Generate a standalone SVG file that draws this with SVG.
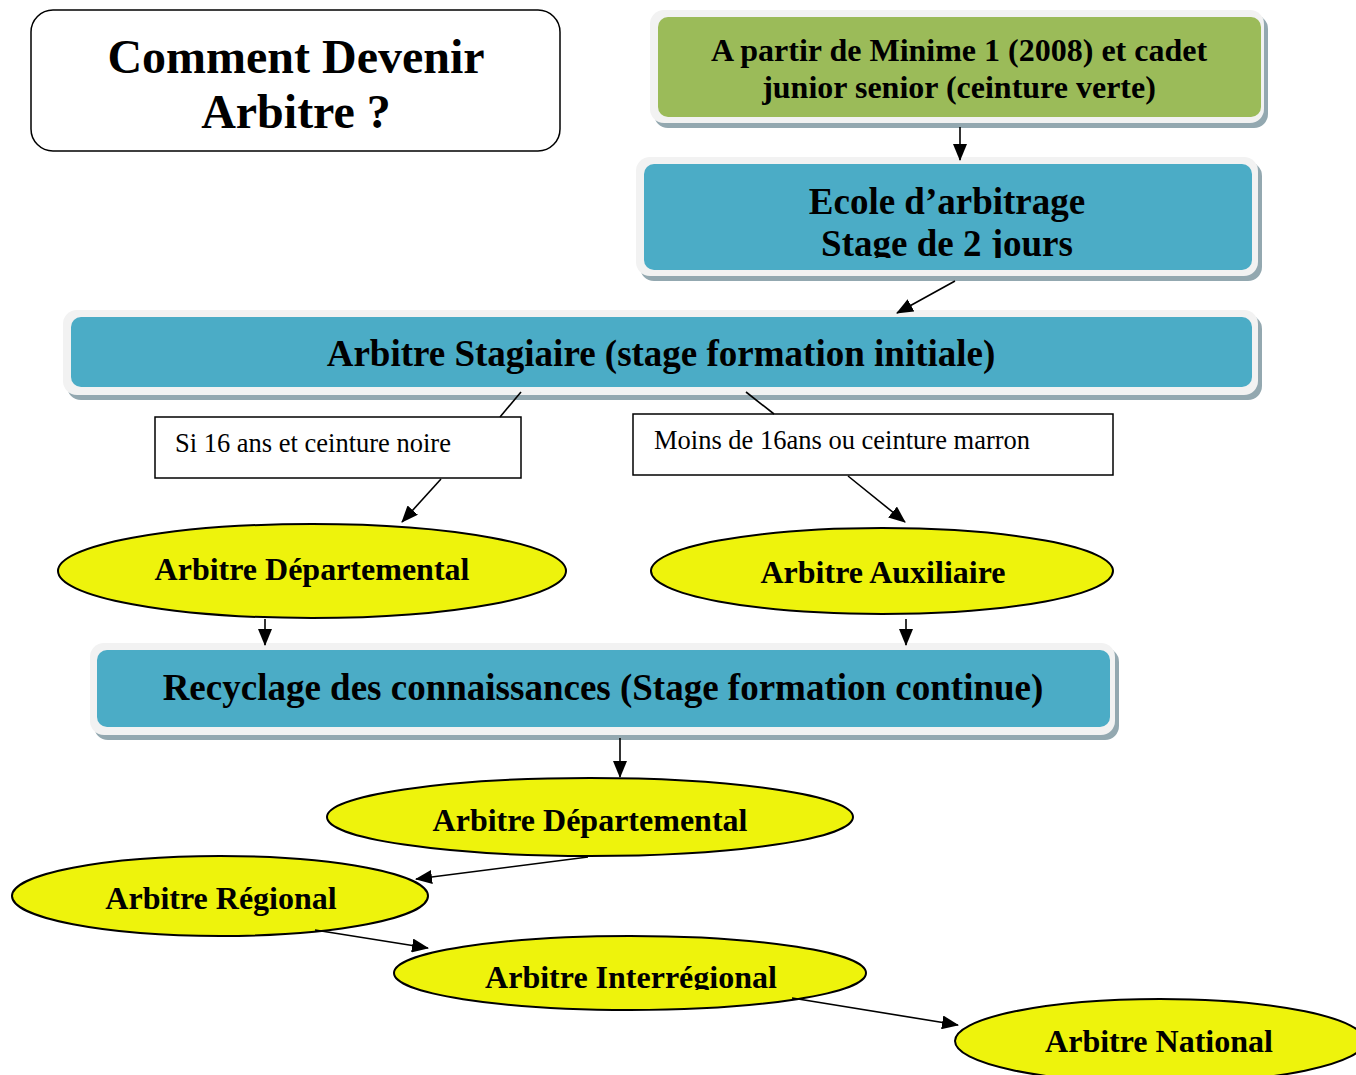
<svg xmlns="http://www.w3.org/2000/svg" width="1356" height="1075" viewBox="0 0 1356 1075">
<defs>
<style>
.frame{fill:#F2F2F2;}
.shadow{fill:#93A8B0;}
.blue{fill:#4BACC6;}
.green{fill:#9BBB59;}
.ell{fill:#EEF30C;stroke:#000;stroke-width:2;}
.plain{fill:#fff;stroke:#000;stroke-width:1.5;}
.big{font-family:"Liberation Serif","Times New Roman",serif;font-weight:bold;fill:#000;text-anchor:middle;}
.small{font-family:"Liberation Serif","Times New Roman",serif;font-size:26.5px;fill:#000;}
.conn line{stroke:#000;stroke-width:1.6;fill:none;}
</style>
<marker id="ah" markerUnits="userSpaceOnUse" markerWidth="17" markerHeight="14" refX="16" refY="7" orient="auto">
<path d="M0,0 L17,7 L0,14 z" fill="#000"/>
</marker>
<clipPath id="clipEcole"><rect x="600" y="150" width="700" height="108"/></clipPath>
<clipPath id="clipInter"><rect x="380" y="930" width="520" height="60"/></clipPath>
</defs>

<g id="title">
<rect x="31" y="10" width="529" height="141" rx="22" ry="22" fill="#fff" stroke="#000" stroke-width="1.5"/>
<text class="big" x="296" y="73" font-size="48">Comment Devenir</text>
<text class="big" x="296" y="128" font-size="48">Arbitre ?</text>
</g>

<g id="minime">
<rect class="shadow" x="654" y="15" width="614" height="113" rx="14"/>
<rect class="frame" x="650" y="10" width="614" height="113" rx="14"/>
<rect class="green" x="658" y="17" width="603" height="100" rx="10"/>
<text class="big" x="959" y="61" font-size="32">A partir de Minime 1 (2008) et cadet</text>
<text class="big" x="959" y="98" font-size="32">junior senior (ceinture verte)</text>
</g>

<g id="ecole">
<rect class="shadow" x="640" y="162" width="622" height="119" rx="14"/>
<rect class="frame" x="636" y="157" width="622" height="119" rx="14"/>
<rect class="blue" x="644" y="164" width="608" height="106" rx="10"/>
<text class="big" x="947" y="214" font-size="37">Ecole d’arbitrage</text>
<g clip-path="url(#clipEcole)"><text class="big" x="947" y="256" font-size="37">Stage de 2 jours</text></g>
</g>

<g id="stagiaire">
<rect class="shadow" x="67" y="315" width="1195" height="85" rx="14"/>
<rect class="frame" x="63" y="310" width="1195" height="85" rx="14"/>
<rect class="blue" x="71" y="317" width="1181" height="70" rx="10"/>
<text class="big" x="661" y="366" font-size="37">Arbitre Stagiaire (stage formation initiale)</text>
</g>

<g id="cond16">
<rect class="plain" x="155" y="417" width="366" height="61"/>
<text class="small" x="175" y="452">Si 16 ans et ceinture noire</text>
</g>

<g id="condMoins">
<rect class="plain" x="633" y="414" width="480" height="61"/>
<text class="small" x="654" y="449">Moins de 16ans ou ceinture marron</text>
</g>

<g id="dep1">
<ellipse class="ell" cx="312" cy="571" rx="254" ry="47"/>
<text class="big" x="312" y="580" font-size="32">Arbitre Départemental</text>
</g>

<g id="aux">
<ellipse class="ell" cx="882" cy="571" rx="231" ry="43"/>
<text class="big" x="883" y="583" font-size="32">Arbitre Auxiliaire</text>
</g>

<g id="recyclage">
<rect class="shadow" x="94" y="648" width="1025" height="92" rx="14"/>
<rect class="frame" x="90" y="643" width="1025" height="92" rx="14"/>
<rect class="blue" x="97" y="650" width="1013" height="77" rx="10"/>
<text class="big" x="603" y="700" font-size="37">Recyclage des connaissances (Stage formation continue)</text>
</g>

<g id="dep2">
<ellipse class="ell" cx="590" cy="817" rx="263" ry="39"/>
<text class="big" x="590" y="831" font-size="32">Arbitre Départemental</text>
</g>

<g id="regional">
<ellipse class="ell" cx="220" cy="896" rx="208" ry="40"/>
<text class="big" x="221" y="909" font-size="32">Arbitre Régional</text>
</g>

<g id="interregional">
<ellipse class="ell" cx="630" cy="973" rx="236" ry="37"/>
<g clip-path="url(#clipInter)"><text class="big" x="631" y="988" font-size="32">Arbitre Interrégional</text></g>
</g>

<g id="national">
<ellipse class="ell" cx="1160" cy="1041" rx="205" ry="42"/>
<text class="big" x="1159" y="1052" font-size="32">Arbitre National</text>
</g>

<g id="connectors" class="conn">
<line x1="960" y1="127" x2="960" y2="160" marker-end="url(#ah)"/>
<line x1="955" y1="281" x2="897" y2="313" marker-end="url(#ah)"/>
<line x1="521" y1="392" x2="500" y2="417"/>
<line x1="441" y1="479" x2="402" y2="522" marker-end="url(#ah)"/>
<line x1="746" y1="392" x2="774" y2="414"/>
<line x1="848" y1="476" x2="905" y2="522" marker-end="url(#ah)"/>
<line x1="265" y1="619" x2="265" y2="645" marker-end="url(#ah)"/>
<line x1="906" y1="619" x2="906" y2="645" marker-end="url(#ah)"/>
<line x1="620" y1="738" x2="620" y2="777" marker-end="url(#ah)"/>
<line x1="588" y1="857" x2="416" y2="879" marker-end="url(#ah)"/>
<line x1="315" y1="930" x2="428" y2="948" marker-end="url(#ah)"/>
<line x1="792" y1="998" x2="958" y2="1025" marker-end="url(#ah)"/>
</g>
</svg>
